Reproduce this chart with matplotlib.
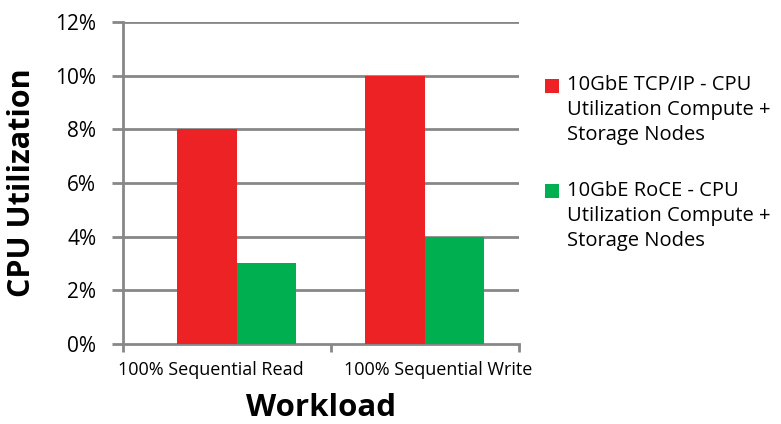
import matplotlib.pyplot as plt
import matplotlib.transforms as mtransforms
from matplotlib.legend_handler import HandlerPatch, update_from_first_child
from matplotlib.container import BarContainer
from matplotlib.patches import Rectangle
import numpy as np

plt.rcParams['font.family'] = ['Open Sans', 'DejaVu Sans']

categories = ['100% Sequential Read', '100% Sequential Write']
tcp_ip = [8, 10]
roce = [3, 4]
series_names = ['10GbE TCP/IP - CPU\nUtilization Compute +\nStorage Nodes',
                '10GbE RoCE - CPU\nUtilization Compute +\nStorage Nodes']
yticks = [0, 2, 4, 6, 8, 10, 12]

red = '#ED2224'
green = '#00B050'
grid_col = '#878787'

fig = plt.figure(figsize=(7.81, 4.24), dpi=100)
ax = fig.add_axes([0.157, 0.189, 0.507, 0.759])

x = np.arange(len(categories))
w = 0.317
ax.bar(x - w / 2, tcp_ip, w, color=red, label=series_names[0], zorder=3)
ax.bar(x + w / 2, roce, w, color=green, label=series_names[1], zorder=3)

ax.set_xlim(-0.606, 1.5)
ax.set_ylim(0, 12)
ax.set_yticks(yticks)
ax.set_yticklabels([f'{v}%' for v in yticks], fontsize=15)
for v in yticks[1:]:
    ax.axhline(v, color=grid_col, lw=2, zorder=1)

# category labels without tick marks, boundary ticks as minor ticks
ax.set_xticks(x)
ax.set_xticklabels(categories, fontsize=13)
ax.tick_params(axis='x', which='major', length=0, pad=12)
ax.set_xticks([-0.606, 0.5, 1.5], minor=True)
ax.tick_params(axis='x', which='minor', length=6, width=2, color=grid_col, direction='out')
ax.tick_params(axis='y', length=8, width=2, color=grid_col, pad=11)
labs = ax.get_xticklabels()
labs[0].set_transform(labs[0].get_transform() + mtransforms.ScaledTranslation(-0.26, 0, fig.dpi_scale_trans))
labs[1].set_transform(labs[1].get_transform() + mtransforms.ScaledTranslation(0.14, 0, fig.dpi_scale_trans))

for s in ['top', 'right']:
    ax.spines[s].set_visible(False)
for s in ['left', 'bottom']:
    ax.spines[s].set_color(grid_col)
    ax.spines[s].set_linewidth(2)

ax.set_ylabel('CPU Utilization', fontsize=22, fontweight='bold', labelpad=13)
ax.set_xlabel('Workload', fontsize=22.5, fontweight='bold', labelpad=10.5)

LINE_PT = 18  # one text line, in points


def top_square(legend, orig_handle, xdescent, ydescent, width, height, fontsize):
    # put the colour square next to the first line of the label
    return Rectangle((-xdescent, -ydescent + LINE_PT), width, height)


leg = ax.legend(loc='upper left', bbox_to_anchor=(0.698, 0.822), bbox_transform=fig.transFigure,
                frameon=False, fontsize=14.5, handlelength=0.7, handleheight=0.7,
                handletextpad=0.4, labelspacing=1.75, borderaxespad=0, borderpad=0,
                handler_map={BarContainer: HandlerPatch(patch_func=top_square,
                                                        update_func=update_from_first_child)})
for t in leg.get_texts():
    t.set_linespacing(1.33)

fig.savefig('out.png', dpi=100)
